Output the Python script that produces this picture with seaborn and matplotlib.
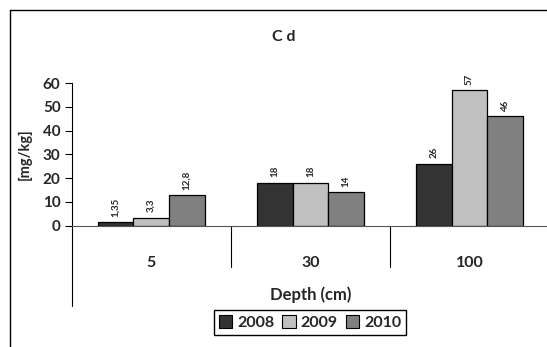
import matplotlib
matplotlib.use("Agg")
import matplotlib.pyplot as plt
import seaborn as sns
import pandas as pd
from matplotlib.lines import Line2D

depths = ["5", "30", "100"]
years = ["2008", "2009", "2010"]
values_2008 = [1.35, 18, 26]
values_2009 = [3.3, 18, 57]
values_2010 = [12.8, 14, 46]
labels_2008 = ["1,35", "18", "26"]
labels_2009 = ["3,3", "18", "57"]
labels_2010 = ["12,8", "14", "46"]
yticks = [0, 10, 20, 30, 40, 50, 60]
colors = ["#333333", "#c0c0c0", "#808080"]

rows = []
for yr, vals in zip(years, [values_2008, values_2009, values_2010]):
    for d, v in zip(depths, vals):
        rows.append({"Depth": d, "Year": yr, "Value": v})
df = pd.DataFrame(rows)

sns.set_style("white")
plt.rcParams['font.family'] = ['Lato', 'DejaVu Sans']

W, H = 547, 347
X0, X1 = 71.7, 549.0
Y0, Y60 = 225.7, 83.2
fig = plt.figure(figsize=(W / 100, H / 100), dpi=100)
ax = fig.add_axes([X0 / W, 1 - Y0 / H, (X1 - X0) / W, (Y0 - Y60) / H])

sns.barplot(data=df, x="Depth", y="Value", hue="Year", order=depths,
            hue_order=years, palette=colors, width=0.67, edgecolor="black",
            linewidth=0.9, saturation=1, ax=ax, legend=True)

for cont, labs in zip(ax.containers, [labels_2008, labels_2009, labels_2010]):
    ax.bar_label(cont, labels=labs, rotation=90, padding=4, fontsize=7,
                 fontweight="bold")

ax.set_ylim(0, 60)
ax.set_yticks(yticks)
ax.set_yticklabels([str(t) for t in yticks], fontsize=11, fontweight="bold")
ax.set_xlim(-0.5, 2.5)
ax.set_xticks(range(len(depths)))
ax.set_xticklabels(depths, fontsize=11.5, fontweight="bold")
ax.tick_params(axis="x", length=0, pad=22)
ax.tick_params(axis="y", direction="out", length=5, width=0.8, color="black",
               left=True, pad=3)

for s in ["top", "right"]:
    ax.spines[s].set_visible(False)
ax.spines["left"].set_color("black")
ax.spines["left"].set_linewidth(0.8)
ax.spines["bottom"].set_color("#555555")
ax.spines["bottom"].set_linewidth(0.8)

ax.set_xlabel("Depth (cm)", fontsize=12, fontweight="bold", labelpad=12)
ax.set_ylabel("[mg/kg]", fontsize=10.5, fontweight="bold", labelpad=8)

# category separators and left axis extension
axh = (Y0 - Y60)
for i in range(1, len(depths)):
    ax.add_line(Line2D([i - 0.5, i - 0.5], [0, -(267 - Y0) / axh], color="black",
                       linewidth=0.8, transform=ax.get_xaxis_transform(),
                       clip_on=False))
ax.add_line(Line2D([-0.5, -0.5], [0, -(306 - Y0) / axh], color="black",
                   linewidth=0.8, transform=ax.get_xaxis_transform(),
                   clip_on=False))

fig.text(284 / W, 1 - 37 / H, "C d", ha="center", va="center", fontsize=11.5,
         fontweight="bold")

leg = ax.get_legend()
if leg is not None:
    leg.remove()
handles = [plt.Rectangle((0, 0), 1, 1, facecolor=c, edgecolor="black",
                         linewidth=0.8) for c in colors]
fig.legend(handles, years, loc="center", bbox_to_anchor=(310 / W, 1 - 322.7 / H),
           ncol=3, frameon=True, fancybox=False, edgecolor="black",
           framealpha=1, handlelength=0.85, handleheight=0.85,
           handletextpad=0.3, columnspacing=0.5, borderpad=0.3,
           prop={"size": 11.5, "weight": "bold"})

# outer chart border
fig.add_artist(Line2D([9.5 / W, 9.5 / W], [0, 1 - 9.5 / H], color="black",
                      linewidth=1, transform=fig.transFigure))
fig.add_artist(Line2D([9.5 / W, 1], [1 - 9.5 / H, 1 - 9.5 / H], color="black",
                      linewidth=1, transform=fig.transFigure))

fig.savefig("out.png", dpi=100)
